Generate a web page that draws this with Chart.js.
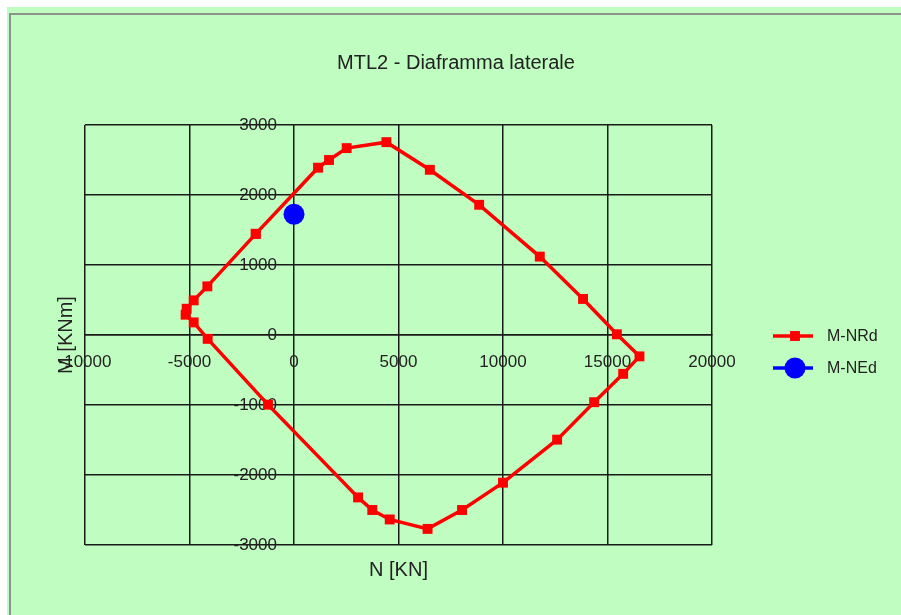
<!DOCTYPE html>
<html>
<head>
<meta charset="utf-8">
<title>MTL2 - Diaframma laterale</title>
<script src="https://cdn.jsdelivr.net/npm/chart.js@4.4.1/dist/chart.umd.min.js"></script>
<style>
  html, body { margin: 0; padding: 0; background: #fff; overflow: hidden; }
  #frame { position: absolute; left: 7px; top: 7px; right: 0; bottom: 0; background: #c0fdc0; }
  #box { position: absolute; left: 2px; top: 6px; right: 0; bottom: 0;
         border-left: 2px solid #8a948a; border-top: 2px solid #8a948a; }
</style>
</head>
<body>
<div id="frame"><div id="box"><canvas id="myChart" width="890" height="600"></canvas></div></div>
<script>
// dominio M-N resistente (chiuso: l'ultimo punto ripete il primo)
const nValues = [-1830, 1150, 1675, 2520, 4420, 6500, 8860, 11760, 13830, 15450, 16530, 15750, 14360,
                 12590, 10000, 8040, 6390, 4580, 3745, 3065, -1245, -4130, -4800, -5185, -5135, -4800, -4145, -1830];
const mValues = [1445, 2390, 2500, 2670, 2755, 2360, 1860, 1120, 515, 10, -305, -555, -960,
                 -1495, -2110, -2500, -2770, -2635, -2500, -2320, -995, -55, 180, 290, 375, 495, 695, 1445];
// sollecitazione di progetto
const edN = [0];
const edM = [1725];

const nTicks = [-10000, -5000, 0, 5000, 10000, 15000, 20000];
const mTicks = [-3000, -2000, -1000, 0, 1000, 2000, 3000];

// le etichette dell'asse M stanno un po' a sinistra della linea N = 0
// (chart.js non applica il padding agli assi posizionati su un valore)
const mLabelsAtN = -815;

const FONT = '"Liberation Sans", Arial, sans-serif';

function toPoints(xs, ys){
    return xs.map((x, i) => ({x: x, y: ys[i]}));
}

// legenda a destra con linea + marcatore, come nei grafici di Excel
const sideLegend = {
    id: 'sideLegend',
    afterDraw(chart){
        const c = chart.ctx;
        const area = chart.chartArea;
        chart.data.datasets.forEach((ds, i) => {
            const x0 = area.right + 61;
            const y = area.top + 211 + i * 32;
            c.save();
            c.strokeStyle = ds.borderColor;
            c.lineWidth = 3.5;
            c.beginPath();
            c.moveTo(x0, y);
            c.lineTo(x0 + 40, y);
            c.stroke();
            c.fillStyle = ds.pointBackgroundColor;
            Chart.helpers.drawPoint(c, {pointStyle: ds.pointStyle, radius: ds.pointRadius, borderWidth: 0}, x0 + 22, y);
            c.fillStyle = '#222';
            c.font = '16px ' + FONT;
            c.textBaseline = 'middle';
            c.fillText(ds.label, x0 + 54, y + 1);
            c.restore();
        });
    }
};

function chartIt(){
    const ctx = document.getElementById('myChart').getContext('2d');
    const chart = new Chart(ctx, {
        type: 'scatter',
        data: {
            datasets: [{
                label: 'M-NRd',
                data: toPoints(nValues, mValues),
                showLine: true,
                borderColor: '#ff0000',
                borderWidth: 3.5,
                pointStyle: 'rect',
                pointRadius: 7,
                pointBorderWidth: 0,
                pointBackgroundColor: '#ff0000',
                order: 2
            }, {
                label: 'M-NEd',
                data: toPoints(edN, edM),
                borderColor: '#0000ff',
                pointStyle: 'circle',
                pointRadius: 10.5,
                pointBorderWidth: 0,
                pointBackgroundColor: '#0000ff',
                order: 1
            }]
        },
        options: {
            responsive: false,
            animation: false,
            layout: { padding: 0 },
            plugins: {
                legend: { display: false },
                tooltip: { enabled: false },
                title: {
                    display: true,
                    text: 'MTL2 - Diaframma laterale',
                    color: '#222',
                    font: { family: FONT, size: 20, weight: 'normal', lineHeight: 1.2 },
                    padding: { top: 36, bottom: 50 }
                }
            },
            scales: {
                x: {
                    type: 'linear',
                    position: { y: 0 },
                    min: nTicks[0],
                    max: nTicks[nTicks.length - 1],
                    afterBuildTicks: s => { s.ticks = nTicks.map(v => ({value: v})); },
                    grid: { color: '#1a1a1a', lineWidth: 1.5, drawTicks: false },
                    border: { color: '#1a1a1a', width: 1.5 },
                    ticks: { color: '#222', padding: 17, maxRotation: 0, font: { family: FONT, size: 17 },
                             callback: v => String(v) }
                },
                y: {
                    type: 'linear',
                    position: { x: mLabelsAtN },
                    min: mTicks[0],
                    max: mTicks[mTicks.length - 1],
                    afterBuildTicks: s => { s.ticks = mTicks.map(v => ({value: v})); },
                    grid: { color: '#1a1a1a', lineWidth: 1.5, drawTicks: false },
                    border: { display: false },
                    ticks: { color: '#222', font: { family: FONT, size: 17 },
                             callback: v => String(v) }
                },
                // assi vuoti: solo titoli e margini attorno all'area del grafico
                xTitle: {
                    type: 'linear', axis: 'x', position: 'bottom',
                    grid: { display: false }, border: { display: false }, ticks: { display: false },
                    title: { display: true, text: 'N [KN]', color: '#222',
                             font: { family: FONT, size: 20, lineHeight: 1.2 }, padding: { top: 0, bottom: 33 } },
                    afterFit: s => { s.height = 70; }
                },
                yTitle: {
                    type: 'linear', axis: 'y', position: 'left',
                    grid: { display: false }, border: { display: false }, ticks: { display: false },
                    title: { display: true, text: 'M [KNm]', color: '#222',
                             font: { family: FONT, size: 20, lineHeight: 1.2 }, padding: { top: 43, bottom: 0 } },
                    afterFit: s => { s.width = 74; }
                },
                yRight: {
                    type: 'linear', axis: 'y', position: 'right',
                    grid: { display: false }, border: { display: false }, ticks: { display: false },
                    afterFit: s => { s.width = 189; }
                }
            }
        },
        plugins: [sideLegend]
    });
}

chartIt();
</script>
</body>
</html>
